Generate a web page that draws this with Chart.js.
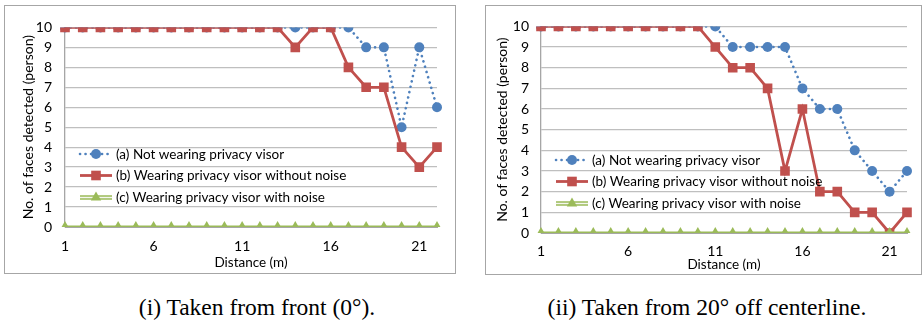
<!DOCTYPE html>
<html>
<head>
<meta charset="utf-8">
<script src="https://cdn.jsdelivr.net/npm/chart.js@4.4.0/dist/chart.umd.min.js"></script>
<style>
  body { margin: 0; background: #fff; width: 922px; height: 321px; position: relative; overflow: hidden; }
  .box { position: absolute; border: 1px solid #a6a6a6; background: #fff; }
  .box canvas { display: block; }
  .cap { position: absolute; font-family: "Liberation Serif", "Times New Roman", serif; font-size: 23.5px; line-height: 26px; color: #000; white-space: nowrap; transform: translateX(-50%); }
</style>
</head>
<body>
<div class="box" id="box1" style="left:4px; top:5px;"><canvas id="c1" width="450" height="267"></canvas></div>
<div class="box" id="box2" style="left:485px; top:5px;"><canvas id="c2" width="435" height="268"></canvas></div>
<div class="cap" style="left:257px; top:294px;">(i) Taken from front (0°).</div>
<div class="cap" style="left:707px; top:294px;">(ii) Taken from 20° off centerline.</div>
<script>
// distance in metres
const distances = [1, 2, 3, 4, 5, 6, 7, 8, 9, 10, 11, 12, 13, 14, 15, 16, 17, 18, 19, 20, 21, 22];
const yTicks = [0, 1, 2, 3, 4, 5, 6, 7, 8, 9, 10];

const seriesNames = [
  '(a) Not wearing privacy visor',
  '(b) Wearing privacy visor without noise',
  '(c) Wearing privacy visor with noise'
];

// (i) front
const frontNoVisor  = [10, 10, 10, 10, 10, 10, 10, 10, 10, 10, 10, 10, 10, 10, 10, 10, 10, 9, 9, 5, 9, 6];
const frontNoNoise  = [10, 10, 10, 10, 10, 10, 10, 10, 10, 10, 10, 10, 10, 9, 10, 10, 8, 7, 7, 4, 3, 4];
const frontNoise    = [0, 0, 0, 0, 0, 0, 0, 0, 0, 0, 0, 0, 0, 0, 0, 0, 0, 0, 0, 0, 0, 0];

// (ii) 20 deg off centerline
const sideNoVisor   = [10, 10, 10, 10, 10, 10, 10, 10, 10, 10, 10, 9, 9, 9, 9, 7, 6, 6, 4, 3, 2, 3];
const sideNoNoise   = [10, 10, 10, 10, 10, 10, 10, 10, 10, 10, 9, 8, 8, 7, 3, 6, 2, 2, 1, 1, 0, 1];
const sideNoise     = [0, 0, 0, 0, 0, 0, 0, 0, 0, 0, 0, 0, 0, 0, 0, 0, 0, 0, 0, 0, 0, 0];

const BLUE = '#4f81bd';
const RED = '#c0504d';
const GREEN = '#9bbb59';
const FONT = 'Lato, "Noto Sans", sans-serif';

function makeDatasets(a, b, c) {
  return [
    {
      label: seriesNames[0], data: a, order: 2,
      borderColor: BLUE, backgroundColor: BLUE, borderWidth: 2.6,
      borderDash: [0.1, 5.4], borderCapStyle: 'round',
      pointStyle: 'circle', pointRadius: 5, pointBackgroundColor: BLUE, pointBorderColor: BLUE, pointBorderWidth: 0
    },
    {
      label: seriesNames[1], data: b, order: 1,
      borderColor: RED, backgroundColor: RED, borderWidth: 2.8,
      pointStyle: 'rect', pointRadius: 6.8, pointBackgroundColor: RED, pointBorderColor: RED, pointBorderWidth: 0
    },
    {
      label: seriesNames[2], data: c, order: 0,
      borderColor: GREEN, backgroundColor: GREEN, borderWidth: 2.8,
      pointStyle: 'triangle', pointRadius: 6, pointBackgroundColor: GREEN, pointBorderColor: GREEN, pointBorderWidth: 0
    }
  ];
}

// legend drawn inside the plot, lower left
const insideLegend = {
  id: 'insideLegend',
  afterDraw(chart) {
    const ctx = chart.ctx;
    const area = chart.chartArea;
    const rows = [73, 51.5, 29.5];
    ctx.save();
    chart.data.datasets.forEach((ds, i) => {
      const y = area.bottom - rows[i];
      const x0 = area.left + 15, x1 = area.left + 47, xm = (x0 + x1) / 2;
      ctx.strokeStyle = ds.borderColor;
      ctx.lineWidth = ds.borderWidth;
      ctx.lineCap = ds.borderCapStyle || 'butt';
      ctx.setLineDash(ds.borderDash || []);
      if (i === 2) {
        ctx.lineWidth = 4.5;
        ctx.beginPath(); ctx.moveTo(x0, y); ctx.lineTo(x1, y); ctx.stroke();
        ctx.strokeStyle = '#f4f7ee';
        ctx.lineWidth = 1.5;
      }
      ctx.beginPath(); ctx.moveTo(x0, y); ctx.lineTo(x1, y); ctx.stroke();
      ctx.setLineDash([]);
      ctx.fillStyle = ds.pointBackgroundColor;
      Chart.helpers.drawPoint(ctx, {
        pointStyle: ds.pointStyle, radius: ds.pointRadius, borderWidth: 0, rotation: 0
      }, xm, y);
      ctx.fillStyle = '#000';
      ctx.font = '13.5px ' + FONT;
      ctx.textAlign = 'left';
      ctx.textBaseline = 'middle';
      ctx.fillText(ds.label, x1 + 4, y + 0.5);
    });
    ctx.restore();
  }
};

function makeChart(id, a, b, c, lay) {
  return new Chart(document.getElementById(id), {
    type: 'line',
    data: { labels: distances, datasets: makeDatasets(a, b, c) },
    options: {
      responsive: false,
      animation: false,
      devicePixelRatio: 1,
      layout: { padding: { top: lay.top, right: lay.right, left: 0, bottom: 0 } },
      plugins: { legend: { display: false }, tooltip: { enabled: false } },
      scales: {
        x: {
          type: 'category',
          offset: false,
          grid: { display: false, drawTicks: false },
          border: { display: true, color: '#a6a6a6' },
          ticks: {
            autoSkip: false, maxRotation: 0, padding: lay.xPad, color: '#000',
            font: { family: FONT, size: 14 },
            callback: (v, i) => (i % 5 === 0 ? String(distances[i]) : '')
          },
          title: { display: true, text: 'Distance (m)', color: '#000', font: { family: FONT, size: 13.5 }, padding: { top: 0, bottom: lay.xTitle } },
          afterFit: (s) => { s.height = lay.xH; }
        },
        y: {
          min: 0, max: 10,
          afterBuildTicks: (s) => { s.ticks = yTicks.map(v => ({ value: v })); },
          grid: { color: '#bfbfbf', lineWidth: 1.3, drawTicks: false },
          border: { display: true, color: '#a6a6a6', width: 1.3 },
          ticks: { padding: lay.yPad, color: '#000', font: { family: FONT, size: 14 } },
          title: { display: true, text: 'No. of faces detected (person)', color: '#000', font: { family: FONT, size: 14 }, padding: { top: lay.yTitle, bottom: 0 } },
          afterFit: (s) => { s.width = lay.yW; }
        }
      }
    },
    plugins: [insideLegend]
  });
}

makeChart('c1', frontNoVisor, frontNoNoise, frontNoise,
  { top: 14, right: 18, xH: 46, yW: 60, xPad: 11, yPad: 13, xTitle: 2, yTitle: 15 });
makeChart('c2', sideNoVisor, sideNoNoise, sideNoise,
  { top: 12, right: 14, xH: 41, yW: 55, xPad: 10, yPad: 12, xTitle: 1, yTitle: 8 });
</script>
</body>
</html>
